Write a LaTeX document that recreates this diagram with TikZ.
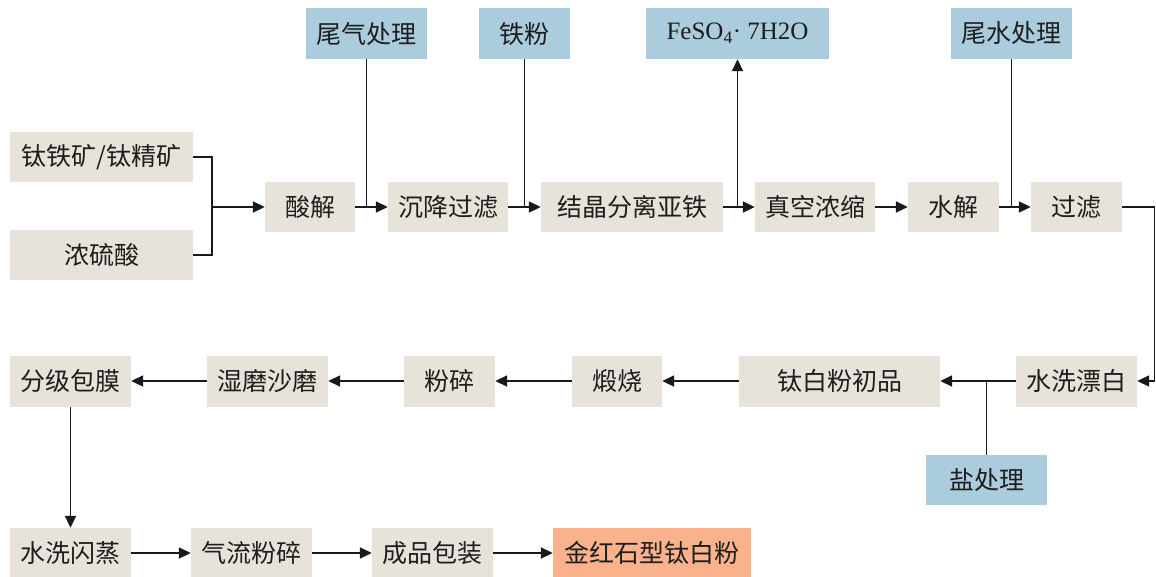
\documentclass[tikz,border=0pt]{standalone}
\usepackage{fontspec}
\setmainfont{Liberation Serif}
\newfontfamily\cjk{Noto Sans CJK SC}
\usetikzlibrary{arrows.meta}
\definecolor{beige}{RGB}{232,227,218}
\definecolor{bluebox}{RGB}{170,204,221}
\definecolor{orangebox}{RGB}{250,178,140}
\definecolor{txt}{RGB}{30,30,30}
\tikzset{
  box/.style={rectangle, inner sep=0pt, minimum height=50pt, text=txt,
    font=\cjk\fontsize{25}{29}\selectfont},
  pbox/.style={box, fill=beige},
  bbox/.style={box, fill=bluebox},
  obox/.style={box, fill=orangebox},
  ln/.style={line width=1.8pt, draw=black!90},
  arr/.style={ln, -{Triangle[length=12pt,width=11pt]}}
}
\begin{document}
\begin{tikzpicture}[x=1pt,y=-1pt]
\useasboundingbox (0,0) rectangle (1156,576);
% row 1
\node[pbox, minimum width=183pt] (ore) at (101.5,157) {钛铁矿/钛精矿};
\node[pbox, minimum width=183pt] (acid) at (101.5,255) {浓硫酸};
\node[pbox, minimum width=90pt] (sj) at (310,207) {酸解};
\node[pbox, minimum width=120pt] (cj) at (448,207) {沉降过滤};
\node[bbox, minimum width=121pt, minimum height=51pt] (wq) at (366.5,33.5) {尾气处理};
\node[bbox, minimum width=91pt, minimum height=51pt] (tf) at (524.5,33.5) {铁粉};
\node[pbox, minimum width=182pt] (jj) at (632,207) {结晶分离亚铁};
\node[bbox, minimum width=183pt, minimum height=51pt, font=\fontsize{25}{29}\selectfont] (fe) at (737.5,33.5) {FeSO\textsubscript{4}· 7H2O};
\node[pbox, minimum width=120pt] (zk) at (815,207) {真空浓缩};
\node[pbox, minimum width=91pt] (sh) at (953.5,207) {水解};
\node[bbox, minimum width=121pt, minimum height=51pt] (ws) at (1011.5,33.5) {尾水处理};
\node[pbox, minimum width=91pt] (gl) at (1076.5,207) {过滤};
% row 2
\node[pbox, minimum width=121pt, minimum height=51pt] (xp) at (1076.5,381) {水洗漂白};
\node[pbox, minimum width=201pt, minimum height=51pt] (cp) at (839.5,381) {钛白粉初品};
\node[pbox, minimum width=90pt, minimum height=51pt] (ds) at (617,381) {煅烧};
\node[pbox, minimum width=91pt, minimum height=51pt] (fs) at (449.5,381) {粉碎};
\node[pbox, minimum width=121pt, minimum height=51pt] (sm) at (267.5,381) {湿磨沙磨};
\node[pbox, minimum width=121pt, minimum height=51pt] (fj) at (70.5,381) {分级包膜};
\node[bbox, minimum width=121pt] (yc) at (986.5,480) {盐处理};
% row 3
\node[pbox, minimum width=121pt] (sx) at (70.5,553) {水洗闪蒸};
\node[pbox, minimum width=121pt] (ql) at (251.5,553) {气流粉碎};
\node[pbox, minimum width=121pt] (cb) at (432.5,553) {成品包装};
\node[obox, minimum width=198pt] (jh) at (652,553) {金红石型钛白粉};
% connectors
\coordinate (m) at (212,207);
\draw[ln] (ore.east) -| (m);
\draw[ln] (acid.east) -| (m);
\draw[arr] (m) -- (sj.west);
\draw[arr] (sj) -- (cj);
\draw[ln] (wq.south) -- (wq.south |- sj.east);
\draw[arr] (cj) -- (jj);
\draw[ln] (tf.south) -- (tf.south |- cj.east);
\draw[arr] (jj) -- (zk);
\draw[arr] (jj.east -| fe.south) -- (fe.south);
\draw[arr] (zk) -- (sh);
\draw[arr] (sh) -- (gl);
\draw[ln] (ws.south) -- (ws.south |- sh.east);
\coordinate (r) at (1154.5,207);
\draw[arr] (gl.east) -- (r) |- (xp.east);
\draw[arr] (xp) -- (cp);
\draw[ln] (yc.north) -- (yc.north |- xp.west);
\draw[arr] (cp) -- (ds);
\draw[arr] (ds) -- (fs);
\draw[arr] (fs) -- (sm);
\draw[arr] (sm) -- (fj);
\draw[arr] (fj) -- (sx);
\draw[arr] (sx) -- (ql);
\draw[arr] (ql) -- (cb);
\draw[arr] (cb) -- (jh);
\end{tikzpicture}
\end{document}
